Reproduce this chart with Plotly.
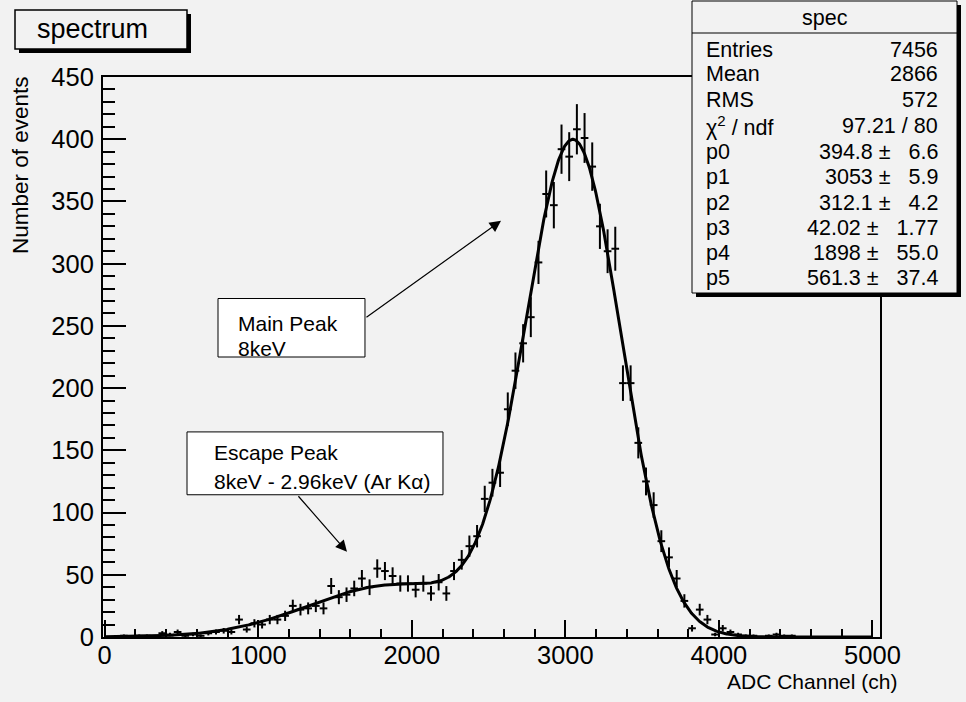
import numpy as np
import plotly.graph_objects as go

# Histogram: 100 bins of 50 channels from 0 to 5000
bin_width = 50
bin_centers = [25 + bin_width * i for i in range(100)]
counts = [
    0, 0, 1, 0, 1, 1, 0, 3, 2, 4,
    1, 2, 1, 3, 4, 5, 4, 14, 6, 11,
    10, 14, 14, 17, 25, 22, 23, 25, 23, 41,
    32, 34, 39, 47, 40, 55, 53, 49, 43, 43,
    38, 43, 35, 44, 35, 53, 62, 73, 81, 111,
    124, 132, 183, 214, 236, 257, 301, 356, 347, 392,
    386, 408, 401, 378, 330, 310, 312, 204, 204, 156,
    125, 106, 77, 64, 47, 29, 7, 22, 14, 2,
    7, 4, 2, 1, 1, 0, 1, 2, 1, 1,
    0, 0, 0, 0, 0, 0, 0, 0, 0, 0,
]

# Fit result: two gaussians (main peak + escape peak)
fit_params = [394.8, 3053, 312.1, 42.02, 1898, 561.3]
fit_errors = ["6.6", "5.9", "4.2", "1.77", "55.0", "37.4"]
fit_shown = ["394.8", "3053", "312.1", "42.02", "1898", "561.3"]

stats_labels = ["Entries", "Mean", "RMS", "χ<sup>2</sup> / ndf",
                "p0", "p1", "p2", "p3", "p4", "p5"]
stats_values = ["7456", "2866", "572", "97.21 / 80"] + [
    f"{v} ±\u00a0\u00a0 {e}" for v, e in zip(fit_shown, fit_errors)]

FONT = "Liberation Sans, Arial, Helvetica, sans-serif"
BG = "#f2f2f2"

# plot-area pixel frame
PL, PR, PT, PB = 103, 880, 77, 637


def px(x):
    return (x - PL) / (PR - PL)


def py(y):
    return (PB - y) / (PB - PT)


xc = [c for c, n in zip(bin_centers, counts) if n > 0]
yc = [n for n in counts if n > 0]
ye = [float(np.sqrt(n)) for n in yc]

p0, p1, p2, p3, p4, p5 = fit_params
xf = np.linspace(0, 5000, 1201)
yf = p0 * np.exp(-0.5 * ((xf - p1) / p2) ** 2) + p3 * np.exp(-0.5 * ((xf - p4) / p5) ** 2)

fig = go.Figure()
fig.add_trace(go.Scatter(
    x=xc, y=yc, mode="markers",
    marker=dict(size=0.1, color="black"),
    error_y=dict(type="data", array=ye, width=0, thickness=2, color="black"),
    error_x=dict(type="constant", value=bin_width / 2, width=0, thickness=2, color="black"),
    hoverinfo="skip", showlegend=False,
))
fig.add_trace(go.Scatter(
    x=xf, y=yf, mode="lines", line=dict(color="black", width=3),
    hoverinfo="skip", showlegend=False,
))

shapes = []
annotations = []

# title box with drop shadow
shapes.append(dict(type="rect", xref="paper", yref="paper", layer="above",
                   x0=px(19), x1=px(191), y0=py(53), y1=py(14),
                   fillcolor="black", line=dict(width=0)))
shapes.append(dict(type="rect", xref="paper", yref="paper", layer="above",
                   x0=px(15), x1=px(187), y0=py(49), y1=py(10),
                   fillcolor=BG, line=dict(color="black", width=1.5)))
annotations.append(dict(xref="paper", yref="paper", x=px(35), y=py(29),
                        xanchor="left", yanchor="middle", showarrow=False,
                        text="spectrum", font=dict(size=27, color="black", family=FONT)))

# statistics box with drop shadow
SF = 21.5
shapes.append(dict(type="rect", xref="paper", yref="paper", layer="above",
                   x0=px(696), x1=px(961), y0=py(297), y1=py(5),
                   fillcolor="black", line=dict(width=0)))
shapes.append(dict(type="rect", xref="paper", yref="paper", layer="above",
                   x0=px(692), x1=px(957), y0=py(293), y1=py(1),
                   fillcolor=BG, line=dict(color="black", width=1)))
shapes.append(dict(type="line", xref="paper", yref="paper", layer="above",
                   x0=px(692), x1=px(957), y0=py(33), y1=py(33),
                   line=dict(color="black", width=1)))
annotations.append(dict(xref="paper", yref="paper", x=px(824.5), y=py(18),
                        xanchor="center", yanchor="middle", showarrow=False,
                        text="spec", font=dict(size=SF, color="black", family=FONT)))
row_y = [50, 74, 100, 126, 152, 177, 203, 228, 253, 278]
for lab, val, ry in zip(stats_labels, stats_values, row_y):
    annotations.append(dict(xref="paper", yref="paper", x=px(704), y=py(ry),
                            xanchor="left", yanchor="middle", showarrow=False,
                            text=lab, font=dict(size=SF, color="black", family=FONT)))
    annotations.append(dict(xref="paper", yref="paper", x=px(940), y=py(ry),
                            xanchor="right", yanchor="middle", showarrow=False,
                            text=val, font=dict(size=SF, color="black", family=FONT)))

# labelled boxes pointing at the two peaks (data coordinates)
AF = 21
shapes.append(dict(type="rect", xref="x", yref="y", layer="above",
                   x0=738, x1=1695, y0=225, y1=272,
                   fillcolor="white", line=dict(color="black", width=1)))
annotations.append(dict(xref="x", yref="y", x=855, y=252, xanchor="left", yanchor="middle",
                        showarrow=False, text="Main Peak",
                        font=dict(size=AF, color="black", family=FONT)))
annotations.append(dict(xref="x", yref="y", x=855, y=232, xanchor="left", yanchor="middle",
                        showarrow=False, text="8keV",
                        font=dict(size=AF, color="black", family=FONT)))
annotations.append(dict(xref="x", yref="y", axref="x", ayref="y",
                        x=2581, y=334.5, ax=1695, ay=256, text="", showarrow=True,
                        arrowhead=2, arrowsize=1.9, arrowwidth=1.2, arrowcolor="black"))

shapes.append(dict(type="rect", xref="x", yref="y", layer="above",
                   x0=536, x1=2203, y0=114.3, y1=164.8,
                   fillcolor="white", line=dict(color="black", width=1)))
annotations.append(dict(xref="x", yref="y", x=700, y=148, xanchor="left", yanchor="middle",
                        showarrow=False, text="Escape Peak",
                        font=dict(size=AF, color="black", family=FONT)))
annotations.append(dict(xref="x", yref="y", x=700, y=124.6, xanchor="left", yanchor="middle",
                        showarrow=False, text="8keV - 2.96keV (Ar Kα)",
                        font=dict(size=AF, color="black", family=FONT)))
annotations.append(dict(xref="x", yref="y", axref="x", ayref="y",
                        x=1578, y=68.5, ax=1253, ay=114.3, text="", showarrow=True,
                        arrowhead=2, arrowsize=1.9, arrowwidth=1.2, arrowcolor="black"))

# axis titles
annotations.append(dict(xref="paper", yref="paper", x=px(899), y=py(681),
                        xanchor="right", yanchor="middle", showarrow=False,
                        text="ADC Channel (ch)", font=dict(size=21, color="black", family=FONT)))
annotations.append(dict(xref="paper", yref="paper", x=px(20), y=py(74),
                        xanchor="center", yanchor="top", showarrow=False, textangle=-90,
                        text="Number of events", font=dict(size=22.5, color="black", family=FONT)))

fig.update_layout(
    width=966, height=702, autosize=False,
    margin=dict(l=PL, r=966 - PR, t=PT, b=702 - PB, pad=0),
    paper_bgcolor=BG, plot_bgcolor=BG,
    font=dict(family=FONT, color="black"),
    shapes=shapes, annotations=annotations,
    showlegend=False,
)
fig.update_xaxes(
    range=[-11, 5049], showgrid=False, zeroline=False,
    showline=True, linecolor="black", linewidth=2, mirror=True,
    ticks="inside", ticklen=17, tickwidth=2, tickcolor="black",
    tickmode="linear", tick0=0, dtick=1000,
    minor=dict(ticks="inside", ticklen=8, tickwidth=2, tickcolor="black", dtick=200, showgrid=False),
    tickfont=dict(size=25.5, color="black", family=FONT),
    ticklabelstandoff=-6,
)
fig.update_yaxes(
    range=[0, 450], showgrid=False, zeroline=False,
    showline=True, linecolor="black", linewidth=2, mirror=True,
    ticks="inside", ticklen=23, tickwidth=2, tickcolor="black",
    tickmode="linear", tick0=0, dtick=50,
    minor=dict(ticks="inside", ticklen=12, tickwidth=2, tickcolor="black", dtick=10, showgrid=False),
    tickfont=dict(size=25.5, color="black", family=FONT),
    ticklabelstandoff=2,
)

fig.write_html("out.html")
